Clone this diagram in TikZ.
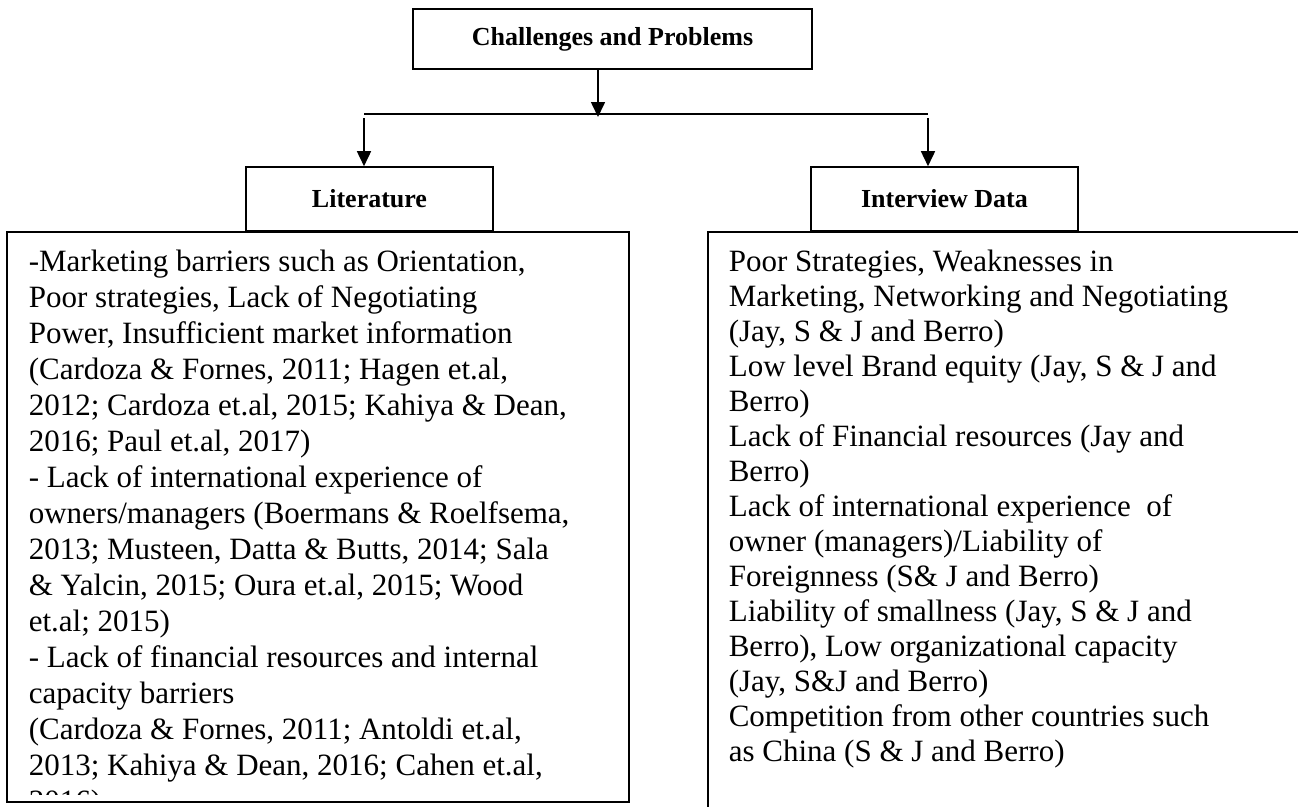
\documentclass[tikz,border=0pt]{standalone}
\usepackage{fontspec}
\setmainfont{Liberation Serif}
\usetikzlibrary{arrows.meta}

\begin{document}
\begin{tikzpicture}[x=1pt,y=-1pt,line width=1.6pt,
  headbox/.style={draw,fill=white,minimum width=#1,minimum height=62,inner sep=0,
    font=\fontsize{26}{30}\selectfont\bfseries},
  listtext/.style={anchor=north west,align=left,inner sep=0},
  arr/.style={-{Triangle[width=14pt,length=15pt]}}]
\useasboundingbox (0,0) rectangle (1298,807);

\node[headbox=399,minimum height=60] at (612.5,39) (challenges) {Challenges and Problems};
\coordinate (split) at (598,114);
\coordinate (splitL) at (364,114);
\coordinate (splitR) at (928,114);

\node[headbox=247,minimum height=64] at (369.5,199) (lit) {Literature};
\node[headbox=267,minimum height=64] at (944.5,199) (interview) {Interview Data};

\draw[arr] (challenges.south -| split) -- ([yshift=-3pt]split);
\draw (splitL) -- (splitR);
\draw[arr] ([yshift=-4pt]splitL) -- (splitL |- lit.north);
\draw[arr] ([yshift=-4pt]splitR) -- (splitR |- interview.north);

\draw (7,232) rectangle (629,802);
\draw (1298,232) -- (708,232) -- (708,807);

\begin{scope}
\clip (7,232) rectangle (629,794);
\node[listtext,font=\fontsize{31}{36}\selectfont] at (28,249) (littext) {-Marketing barriers such as Orientation,\\
Poor strategies, Lack of Negotiating\\
Power, Insufficient market information\\
(Cardoza \& Fornes, 2011; Hagen et.al,\\
2012; Cardoza et.al, 2015; Kahiya \& Dean,\\
2016; Paul et.al, 2017)\\
- Lack of international experience of\\
owners/managers (Boermans \& Roelfsema,\\
2013; Musteen, Datta \& Butts, 2014; Sala\\
\& Yalcin, 2015; Oura et.al, 2015; Wood\\
et.al; 2015)\\
- Lack of financial resources and internal\\
capacity barriers\\
(Cardoza \& Fornes, 2011; Antoldi et.al,\\
2013; Kahiya \& Dean, 2016; Cahen et.al,\\
2016)};
\end{scope}

\node[listtext,font=\fontsize{31}{35}\selectfont] at (728,249) (inttext) {Poor Strategies, Weaknesses in\\
Marketing, Networking and Negotiating\\
(Jay, S \& J and Berro)\\
Low level Brand equity (Jay, S \& J and\\
Berro)\\
Lack of Financial resources (Jay and\\
Berro)\\
Lack of international experience\ \ of\\
owner (managers)/Liability of\\
Foreignness (S\& J and Berro)\\
Liability of smallness (Jay, S \& J and\\
Berro), Low organizational capacity\\
(Jay, S\&J and Berro)\\
Competition from other countries such\\
as China (S \& J and Berro)};
\end{tikzpicture}
\end{document}
